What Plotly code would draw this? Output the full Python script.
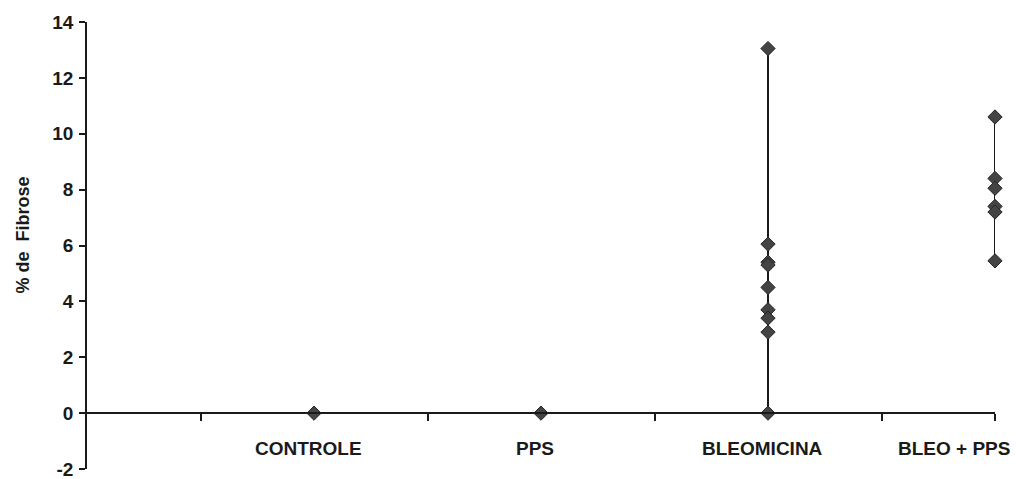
import plotly.graph_objects as go

# Fibrosis percentage per experimental group
groups = ["CONTROLE", "PPS", "BLEOMICINA", "BLEO + PPS"]
controle = [0.0]
pps = [0.0]
bleomicina = [13.05, 6.05, 5.4, 5.3, 4.5, 3.7, 3.4, 2.9, 0.0]
bleo_pps = [10.6, 8.4, 8.05, 7.4, 7.2, 5.45]
series = [controle, pps, bleomicina, bleo_pps]

y_min, y_max = -2, 14
y_ticks = list(range(-2, 15, 2))
y_tick_labels = [str(v) for v in y_ticks]

FONT = "Liberation Sans, Arial, sans-serif"
INK = "#1a1a1a"

fig = go.Figure()
for i, (name, vals) in enumerate(zip(groups, series), start=1):
    ys = sorted(vals, reverse=True)
    fig.add_trace(go.Scatter(
        x=[i] * len(ys), y=ys, name=name,
        mode="lines+markers",
        line=dict(color=INK, width=2),
        marker=dict(symbol="diamond", size=11, color="#444444",
                    line=dict(color="#262626", width=1)),
        cliponaxis=False, showlegend=False,
    ))

# category labels under the x axis line
for i, name in enumerate(groups, start=1):
    last = i == len(groups)
    fig.add_annotation(
        x=i, y=-1.25, xref="x", yref="y", text=name, showarrow=False,
        xanchor="right" if last else "center", yanchor="middle",
        xshift=17 if last else -6,
        font=dict(family=FONT, size=19, color=INK, weight="bold"),
    )

fig.add_annotation(
    x=0, y=0.5, xref="paper", yref="paper", text="% de  Fibrose",
    textangle=-90, showarrow=False, xanchor="center", yanchor="middle",
    xshift=-65, yshift=10,
    font=dict(family=FONT, size=18, color=INK, weight="bold"),
)

fig.update_layout(
    width=1016, height=479,
    margin=dict(l=87, r=21, t=22, b=10, autoexpand=False),
    paper_bgcolor="white", plot_bgcolor="white",
    xaxis=dict(
        range=[0, len(groups)], automargin=False,
        anchor="free", position=(0 - y_min) / (y_max - y_min),
        showline=True, linecolor=INK, linewidth=1.5,
        ticks="outside", ticklen=7, tickwidth=1.5, tickcolor=INK,
        tickvals=[0.5, 1.5, 2.5, 3.5, 4], showticklabels=False,
        showgrid=False, zeroline=False,
    ),
    yaxis=dict(
        range=[y_min, y_max], tickvals=y_ticks, ticktext=y_tick_labels,
        automargin=False,
        showline=True, linecolor=INK, linewidth=1.8,
        ticks="outside", ticklen=6, tickwidth=1.5, tickcolor=INK,
        ticklabelstandoff=2, ticklabeloverflow="allow",
        tickfont=dict(family=FONT, size=19, color=INK, weight="bold"),
        showgrid=False, zeroline=False,
    ),
)

fig.write_html("out.html")
